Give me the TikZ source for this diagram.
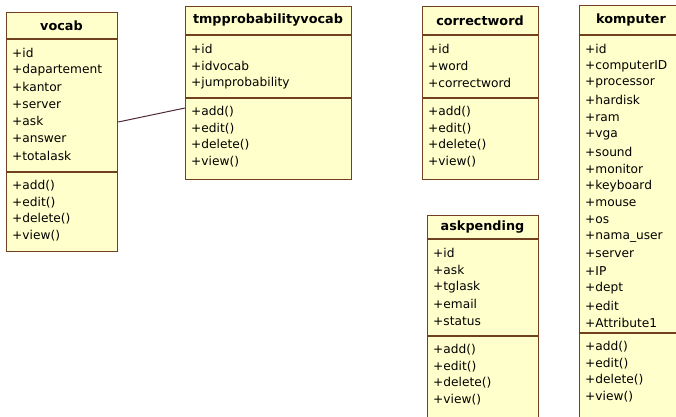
\documentclass[tikz,border=0pt]{standalone}
\usepackage{fontspec}
\setmainfont{DejaVu Sans}
\usetikzlibrary{calc}
\definecolor{boxfill}{RGB}{255,255,204}
\definecolor{boxline}{RGB}{112,64,32}
\definecolor{linkcol}{RGB}{80,40,56}
\tikzset{
  classbox/.style={draw=boxline, fill=boxfill, line width=1.2pt, inner sep=0pt, anchor=north west},
  sepline/.style={draw=boxline, line width=1.2pt},
  ctitle/.style={font=\fontsize{12.8}{15}\selectfont\bfseries, inner sep=0pt},
  citem/.style={font=\fontsize{12.2}{14}\selectfont, inner sep=0pt, anchor=west},
  link/.style={draw=linkcol, line width=1pt}
}
% name, x, y, w, h, sep1, sep2, title, attributes
\newcommand\umlclass[9]{%
  \node[classbox, minimum width=#4pt, minimum height=#5pt] (#1) at (#2,#3) {};
  \pgfmathsetmacro\xr{#2+#4}
  \draw[sepline] (#2,#6) -- (\xr,#6);
  \draw[sepline] (#2,#7) -- (\xr,#7);
  \pgfmathsetmacro\xc{#2+#4/2}
  \pgfmathsetmacro\yc{(#3+#6)/2}
  \node[ctitle] (#1-title) at (\xc,\yc) {#8};
  \foreach \a [count=\i] in {#9} {
    \pgfmathsetmacro\yy{#6+14+(\i-1)*17.1}
    \node[citem] (#1-a\i) at (#2+6,\yy) {\a};
  }
  \foreach \m [count=\j] in {+add(),+edit(),+delete(),+view()} {
    \pgfmathsetmacro\yy{#7+14+(\j-1)*16.5}
    \node[citem] (#1-m\j) at (#2+6,\yy) {\m};
  }
}
\begin{document}
\begin{tikzpicture}[x=1pt,y=-1pt]
  \useasboundingbox (0,0) rectangle (676,416);
  \clip (0,0) rectangle (676,416);
  \fill[white] (0,0) rectangle (676,416);
  \umlclass{vocab}{6}{12}{111}{239}{39}{172}{vocab}{+id,+dapartement,+kantor,+server,+ask,+answer,+totalask}
  \umlclass{tmp}{185}{6}{166}{173}{35}{98}{tmpprobabilityvocab}{+id,+idvocab,+jumprobability}
  \umlclass{correct}{422}{6}{116}{173}{35}{98}{correctword}{+id,+word,+correctword}
  \umlclass{komputer}{579}{5}{104}{420}{35}{333}{komputer}{+id,+computerID,+processor,+hardisk,+ram,+vga,+sound,+monitor,+keyboard,+mouse,+os,+nama\_user,+server,+IP,+dept,+edit,+Attribute1}
  \umlclass{ask}{427}{215}{111}{210}{239}{336}{askpending}{+id,+ask,+tglask,+email,+status}
  \draw[link] ($(vocab.north east)+(0,110)$) -- ($(tmp.north west)+(0,102)$);
\end{tikzpicture}
\end{document}
